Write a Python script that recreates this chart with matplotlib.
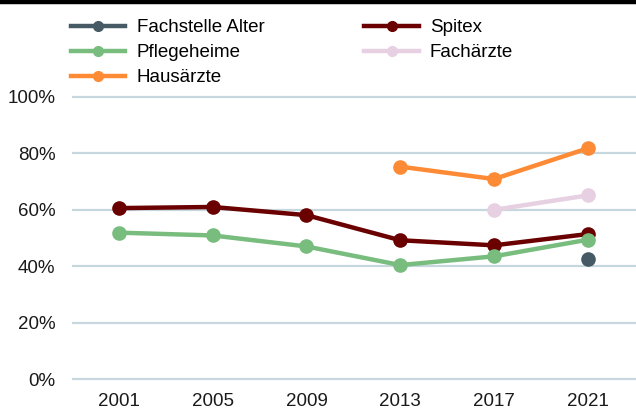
import numpy as np
import matplotlib
matplotlib.use('Agg')
from matplotlib import pyplot as plt
from matplotlib.lines import Line2D

plt.rcParams['font.family'] = ['Liberation Sans', 'DejaVu Sans']
plt.rcParams['font.size'] = 13.5

years = ['2001', '2005', '2009', '2013', '2017', '2021']

# values in percent, None where not surveyed
fachstelle = [None, None, None, None, None, 42.5]
spitex = [60.6, 61.0, 58.1, 49.2, 47.4, 51.4]
pflegeheime = [51.9, 50.9, 47.0, 40.4, 43.5, 49.4]
fachaerzte = [None, None, None, None, 60.0, 65.1]
hausaerzte = [None, None, None, 75.3, 70.9, 81.8]

series = [
    ('Fachstelle Alter', fachstelle, '#455a64'),
    ('Pflegeheime', pflegeheime, '#78bc7e'),
    ('Hausärzte', hausaerzte, '#fd8a35'),
    ('Spitex', spitex, '#6a0000'),
    ('Fachärzte', fachaerzte, '#e7d0e1'),
]
# drawing order (later on top)
z = {'Fachstelle Alter': 5, 'Pflegeheime': 4, 'Hausärzte': 3, 'Spitex': 3, 'Fachärzte': 2}

fig = plt.figure(figsize=(6.36, 4.09), dpi=100)
ax = fig.add_axes([72 / 636, 0.0526, 1 - 72 / 636 + 0.001, 0.731])

x = np.arange(len(years))
handles = []
for name, vals, col in series:
    y = np.array([np.nan if v is None else v for v in vals], dtype=float)
    ax.plot(x, y, color=col, lw=3.2, marker='o', ms=9.5, zorder=z[name])
    handles.append(Line2D([], [], color=col, lw=3.2, marker='o', ms=7))

ax.set_xlim(-0.5, 5.52)
ax.set_ylim(-3, 103)
ax.set_yticks(range(0, 101, 20))
ax.set_yticklabels([f'{v}%' for v in range(0, 101, 20)])
ax.set_xticks(x)
ax.set_xticklabels(years)
ax.tick_params(length=0, colors='#1a1a1a', labelsize=13.5)
ax.tick_params(axis='y', pad=12)
ax.tick_params(axis='x', pad=4)
ax.grid(axis='y', color='#c6d7dd', lw=1.6)
ax.set_axisbelow(True)
for s in ax.spines.values():
    s.set_visible(False)

fig.add_artist(Line2D([0, 1], [1 - 2 / 409, 1 - 2 / 409], transform=fig.transFigure,
                      color='black', lw=3.2))

fig.legend(handles, [s[0] for s in series], ncol=2, loc='upper left',
           bbox_to_anchor=(71 / 636, 1 - 19 / 409), frameon=False,
           handlelength=2.9, handletextpad=0.6, columnspacing=5.33,
           labelspacing=0.42, borderaxespad=0, borderpad=0, fontsize=13.5)

fig.savefig('out.png', dpi=100)
